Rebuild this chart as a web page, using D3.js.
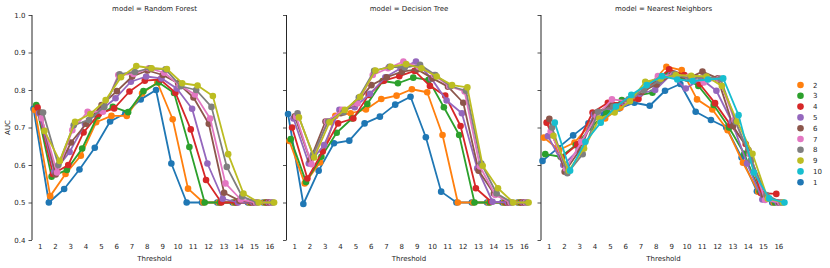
<!DOCTYPE html>
<html><head><meta charset="utf-8">
<script src="https://cdn.jsdelivr.net/npm/d3@7/dist/d3.min.js"></script>
<style>
body{margin:0;background:#fff;}
text{font-family:"DejaVu Sans",sans-serif;fill:#262626;}
</style></head><body>
<svg id="chart" width="830" height="268"></svg>
<script>
const thresholds = [1,2,3,4,5,6,7,8,9,10,11,12,13,14,15,16];
const hueLevels = [1,2,3,4,5,6,7,8,9,10];
const legendOrder = [2,3,4,5,6,7,8,9,10,1];
const yTicks = [0.4,0.5,0.6,0.7,0.8,0.9,1.0];
const models = ["Random Forest","Decision Tree","Nearest Neighbors"];
const palette = ["#1f77b4","#ff7f0e","#2ca02c","#d62728","#9467bd","#8c564b","#e377c2","#7f7f7f","#bcbd22","#17becf"];

// AUC per k (k = 1..9) for Random Forest
const randomForestAUC = [
  [0.750,0.500,0.536,0.588,0.646,0.716,0.738,0.775,0.800,0.604,0.500,0.500,0.500,0.500,0.500,0.500],
  [0.747,0.517,0.576,0.625,0.714,0.731,0.731,0.791,0.820,0.722,0.537,0.500,0.500,0.500,0.500,0.500],
  [0.760,0.569,0.587,0.644,0.730,0.755,0.741,0.797,0.820,0.792,0.648,0.500,0.500,0.500,0.500,0.500],
  [0.753,0.576,0.600,0.687,0.736,0.751,0.796,0.825,0.828,0.793,0.695,0.560,0.500,0.500,0.500,0.500],
  [0.738,0.582,0.635,0.710,0.745,0.778,0.822,0.836,0.831,0.804,0.750,0.604,0.510,0.500,0.500,0.500],
  [0.740,0.575,0.660,0.710,0.760,0.797,0.836,0.852,0.840,0.818,0.780,0.710,0.526,0.505,0.500,0.500],
  [0.725,0.580,0.693,0.742,0.742,0.840,0.843,0.858,0.846,0.813,0.788,0.724,0.551,0.508,0.500,0.500],
  [0.740,0.600,0.706,0.720,0.755,0.842,0.848,0.858,0.855,0.810,0.800,0.755,0.595,0.516,0.500,0.500],
  [0.691,0.611,0.715,0.736,0.773,0.834,0.864,0.858,0.856,0.818,0.812,0.784,0.629,0.524,0.500,0.500]
];
// AUC per k (k = 1..9) for Decision Tree
const decisionTreeAUC = [
  [0.736,0.496,0.585,0.658,0.665,0.711,0.729,0.761,0.782,0.674,0.529,0.500,0.500,0.500,0.500,0.500],
  [0.664,0.551,0.607,0.731,0.738,0.748,0.776,0.785,0.802,0.794,0.680,0.500,0.500,0.500,0.500,0.500],
  [0.669,0.555,0.622,0.686,0.724,0.763,0.824,0.818,0.833,0.827,0.754,0.680,0.500,0.500,0.500,0.500],
  [0.700,0.564,0.636,0.711,0.724,0.787,0.825,0.837,0.851,0.811,0.785,0.704,0.538,0.502,0.500,0.500],
  [0.724,0.604,0.653,0.747,0.754,0.790,0.834,0.858,0.876,0.831,0.772,0.738,0.591,0.502,0.500,0.500],
  [0.730,0.613,0.716,0.738,0.764,0.813,0.834,0.849,0.855,0.831,0.809,0.766,0.585,0.524,0.500,0.500],
  [0.729,0.602,0.716,0.747,0.764,0.840,0.858,0.876,0.862,0.840,0.810,0.796,0.596,0.520,0.500,0.500],
  [0.738,0.627,0.716,0.740,0.780,0.851,0.862,0.860,0.867,0.840,0.810,0.798,0.604,0.524,0.500,0.500],
  [0.727,0.620,0.714,0.747,0.782,0.852,0.862,0.869,0.858,0.836,0.813,0.807,0.598,0.538,0.500,0.500]
];
// AUC per k (k = 1..10) for Nearest Neighbors
const nearestNeighborsAUC = [
  [0.611,0.645,0.679,0.711,0.735,0.751,0.766,0.758,0.798,0.816,0.742,0.720,0.700,0.620,0.530,0.500],
  [0.673,0.640,0.660,0.707,0.724,0.753,0.778,0.818,0.862,0.853,0.775,0.748,0.693,0.606,0.529,0.500],
  [0.629,0.622,0.653,0.700,0.740,0.773,0.785,0.793,0.840,0.835,0.811,0.760,0.700,0.630,0.530,0.500],
  [0.713,0.620,0.655,0.740,0.766,0.765,0.776,0.820,0.855,0.840,0.816,0.765,0.707,0.656,0.525,0.523],
  [0.677,0.600,0.640,0.735,0.755,0.765,0.790,0.800,0.840,0.804,0.830,0.798,0.716,0.604,0.508,0.500],
  [0.723,0.582,0.640,0.738,0.760,0.770,0.795,0.815,0.840,0.830,0.849,0.831,0.704,0.640,0.520,0.500],
  [0.690,0.590,0.662,0.730,0.775,0.770,0.800,0.837,0.840,0.835,0.820,0.830,0.720,0.629,0.507,0.500],
  [0.700,0.578,0.629,0.742,0.755,0.775,0.800,0.825,0.843,0.830,0.835,0.830,0.715,0.613,0.520,0.500],
  [0.678,0.585,0.644,0.724,0.740,0.770,0.822,0.830,0.840,0.838,0.836,0.811,0.716,0.630,0.510,0.500],
  [0.713,0.585,0.662,0.713,0.756,0.787,0.813,0.837,0.828,0.824,0.828,0.831,0.733,0.580,0.511,0.500]
];
const panelData = [randomForestAUC, decisionTreeAUC, nearestNeighborsAUC];

const svg = d3.select("#chart");
const plotTop = 15, plotBottom = 240, panelW = 245;
const panelLeft = [32, 286.5, 541];
const y = d3.scaleLinear().domain([0.4,1.0]).range([plotBottom, plotTop]);
const color = d3.scaleOrdinal().domain(hueLevels).range(palette);
const fs = 7;

models.forEach((m, pi) => {
  const x0 = panelLeft[pi];
  const g = svg.append("g").attr("transform", `translate(${x0},0)`);
  const x = d3.scalePoint().domain(thresholds).range([0, panelW]).padding(0.5);
  const step = x.step();
  const dodge = 0.8 * step;
  const off = d3.scaleLinear().domain([0, hueLevels.length - 1]).range([-dodge/2, dodge/2]);

  const yAxis = d3.axisLeft(y).tickValues(yTicks).tickSize(3.5).tickPadding(3)
      .tickFormat(pi === 0 ? d3.format(".1f") : () => "");
  const ya = g.append("g").call(yAxis);
  ya.select(".domain").attr("stroke", "#262626").attr("stroke-width", 1).attr("d", `M0,${plotTop}V${plotBottom}`);
  ya.selectAll(".tick line").attr("stroke", "#262626").attr("stroke-width", 0.8);
  ya.selectAll(".tick text").style("font-size", fs + "px").attr("fill", "#262626");

  const xAxis = d3.axisBottom(x).tickSize(0).tickPadding(4);
  const xa = g.append("g").attr("transform", `translate(0,${plotBottom})`).call(xAxis);
  xa.select(".domain").remove();
  xa.selectAll(".tick text").style("font-size", fs + "px").attr("fill", "#262626");

  g.append("text").attr("x", panelW/2).attr("y", 261).attr("text-anchor", "middle")
    .style("font-size", fs + "px").text("Threshold");
  g.append("text").attr("x", panelW/2).attr("y", 10.5).attr("text-anchor", "middle")
    .style("font-size", fs + "px").text("model = " + m);

  const series = panelData[pi];
  series.forEach((vals, si) => {
    const k = hueLevels[si];
    const dx = off(si);
    const pts = vals.map((v, ti) => [x(thresholds[ti]) + dx, y(v)]);
    g.append("path").attr("d", d3.line()(pts)).attr("fill", "none")
      .attr("stroke", color(k)).attr("stroke-width", 1.8).attr("stroke-linejoin", "round");
    g.selectAll(null).data(pts).enter().append("circle")
      .attr("cx", d => d[0]).attr("cy", d => d[1]).attr("r", 3.3).attr("fill", color(k));
  });
});

svg.append("text").attr("transform", `translate(10,${(plotTop+plotBottom)/2}) rotate(-90)`)
  .attr("text-anchor", "middle").style("font-size", fs + "px").text("AUC");

const lg = svg.append("g");
legendOrder.forEach((k, i) => {
  const yy = 85 + i * 10.8;
  lg.append("circle").attr("cx", 800.5).attr("cy", yy).attr("r", 3.3).attr("fill", color(k));
  lg.append("text").attr("x", 813).attr("y", yy + 2.5).style("font-size", fs + "px").text(k);
});
</script>
</body></html>
